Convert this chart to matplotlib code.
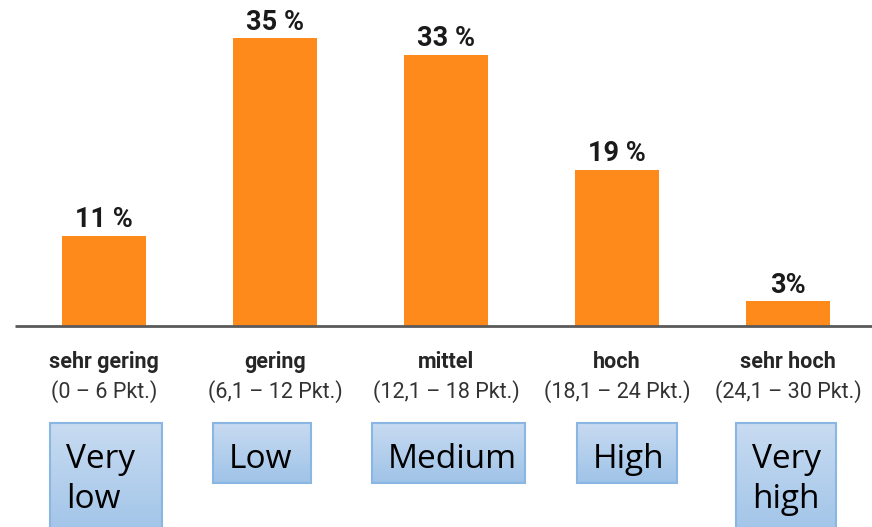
import matplotlib
matplotlib.use("Agg")
import matplotlib.pyplot as plt
import numpy as np
from matplotlib.patches import Rectangle

# data
levels_de = ["sehr gering", "gering", "mittel", "hoch", "sehr hoch"]
ranges_de = ["(0 – 6 Pkt.)", "(6,1 – 12 Pkt.)", "(12,1 – 18 Pkt.)",
             "(18,1 – 24 Pkt.)", "(24,1 – 30 Pkt.)"]
shares = [11, 35, 33, 19, 3]
share_labels = ["11 %", "35 %", "33 %", "19 %", "3%"]
levels_en = ["Very\nlow", "Low", "Medium", "High", "Very\nhigh"]

# layout of the blue boxes (category units, left offset and width)
box_left = [-0.316, -0.363, -0.433, -0.234, -0.304]
box_width = [0.655, 0.573, 0.895, 0.585, 0.585]
box_bottom = [-26, -19.1, -19.1, -19.1, -26]
box_top = -11.8

orange = "#ff8a1c"
px = 8.22  # pixels per percent

fig = plt.figure(figsize=(8.72, 5.27), dpi=100)
ax = fig.add_axes([0, 0, 1, 1])
ax.set_xlim(-104 / 171, (872 - 104) / 171)
ax.set_ylim(-201 / px, 326 / px)
ax.axis("off")

x = np.arange(len(shares))
ax.bar(x, shares, width=0.49, color=orange, zorder=2)
ax.hlines(0, -0.52, 4.6, color="#5a5a5a", lw=2, zorder=3)

cmap = matplotlib.colors.LinearSegmentedColormap.from_list("b", ["#9fc3e8", "#c8dbf1"])

for i in range(len(shares)):
    ax.annotate(share_labels[i], (x[i], shares[i]), xytext=(0, 6),
                textcoords="offset points", ha="center", va="baseline",
                fontsize=19.5, fontweight="bold", family="Roboto",
                color="#1a1a1a")
    ax.text(x[i], -42 / px, levels_de[i], ha="center", va="baseline",
            fontsize=15.5, fontweight="bold", family="Roboto", color="#262626")
    ax.text(x[i], -72 / px, ranges_de[i], ha="center", va="baseline",
            fontsize=15.5, family="Roboto", color="#333333")

    # gradient blue box
    l = x[i] + box_left[i]
    r = l + box_width[i]
    rect = Rectangle((l, box_bottom[i]), box_width[i], box_top - box_bottom[i],
                     facecolor="none", edgecolor="#8ab6e3", lw=1.5, zorder=5)
    ax.add_patch(rect)
    grad = np.linspace(0, 1, 100).reshape(-1, 1)
    im = ax.imshow(grad, extent=(l, r, box_bottom[i], box_top), aspect="auto",
                   cmap=cmap, origin="lower", zorder=4)
    im.set_clip_path(rect)
    for k, line in enumerate(levels_en[i].split("\n")):
        ax.text(l + 16 / 171, -(142 + 40 * k) / px, line, ha="left",
                va="baseline", fontsize=24, family="Open Sans",
                color="black", zorder=6)

fig.savefig("out.png", dpi=100)
